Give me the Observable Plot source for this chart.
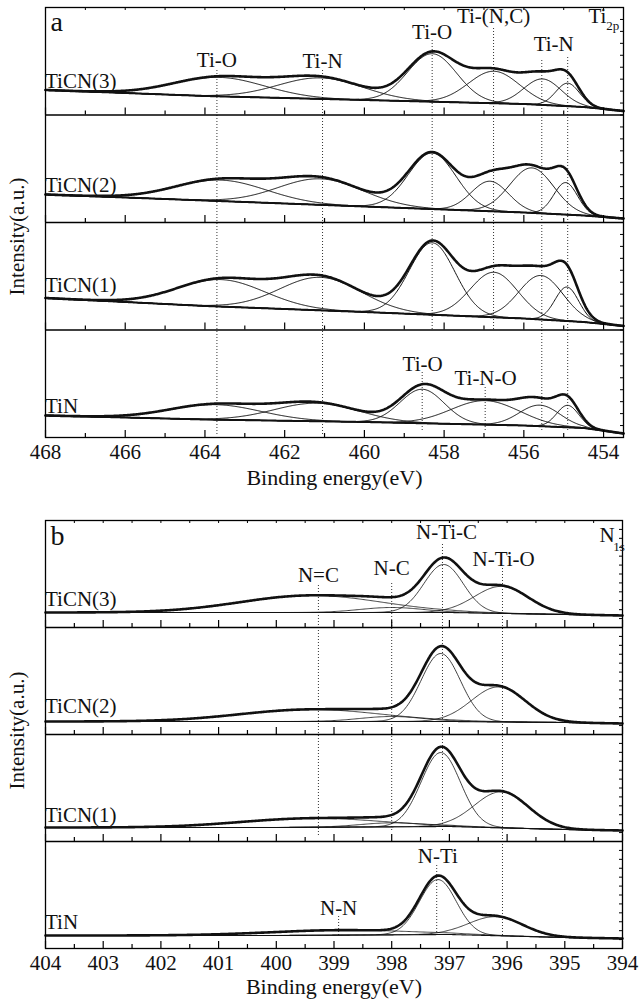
<!DOCTYPE html>
<html><head><meta charset="utf-8">
<script src="https://cdn.jsdelivr.net/npm/d3@7"></script>
<script src="https://cdn.jsdelivr.net/npm/@observablehq/plot@0.6"></script>
<style>
body{margin:0;background:#fff;}
#chart{width:642px;}
#chart svg{display:block;}
#chart svg, #chart svg text, #chart svg g{font-family:"Liberation Serif","Tinos","Times New Roman","Nimbus Roman","DejaVu Serif",serif !important;}
</style></head><body><div id="chart"></div>
<script>
// ================= DATA =================
const samples = ["TiCN(3)", "TiCN(2)", "TiCN(1)", "TiN"];

// ---- panel a : Ti 2p ----
const bgEnergyA = [468, 464, 460, 456, 454.5, 453.5];
const bgA = [
  [25, 19, 15, 11, 8, 4],
  [28, 22, 16, 10, 7, 4],
  [32, 24, 18, 11.5, 8, 4],
  [22, 18, 15.5, 12, 9.5, 4]];
const centersA = [
  [463.65, 461.1, 458.3, 456.75, 455.53, 454.9],
  [463.6, 461.1, 458.3, 456.85, 455.8, 454.95],
  [463.6, 461.1, 458.3, 456.75, 455.57, 454.92],
  [463.75, 461.2, 458.55, 456.97, 455.6, 454.9]];
const heightsA = [
  [19, 21, 48, 32, 26, 23],
  [21, 26, 56, 30, 45, 32],
  [27, 33, 72, 45, 44, 34],
  [15, 18, 34, 24, 21, 22]];
const fwhmA = [
  [2.7, 2.5, 1.45, 1.5, 1.1, 0.7],
  [2.7, 2.5, 1.4, 1.1, 1.3, 0.7],
  [2.6, 2.4, 1.35, 1.4, 1.3, 0.7],
  [2.7, 2.5, 1.3, 2.0, 1.2, 0.65]];
const majorTicksA = [468, 466, 464, 462, 460, 458, 456, 454];
const minorTicksA = [467, 465, 463, 461, 459, 457, 455];
const peakLabelsA = ["Ti-O", "Ti-N", "Ti-O", "Ti-(N,C)", "Ti-N", "Ti-O", "Ti-N-O"];
const peakLabelEA = [463.7, 461.05, 458.3, 456.76, 455.25, 458.54, 456.96];
const peakLabelYA = [377, 376, 405, 421, 393, 73, 59];
const sampleLabelYA = [33, 37, 44, 31];
const guideEA = [463.7, 461.05, 458.3, 456.76, 455.55, 454.9, 458.55, 456.97];
const guideTopA = [369, 368, 397, 411, 377, 381, 65, 51];
const guideBotA = [3, 3, 108, 108, 7, 7, 7, 7];

// ---- panel b : N 1s ----
const bgEnergyB = [404, 400, 397, 395, 394];
const bgB = [
  [15, 15, 15, 13, 12],
  [13, 13, 13, 12, 11],
  [14, 14, 15, 12, 11],
  [13, 13, 14, 11, 10]];
const centersB = [
  [399.4, 398.0, 397.1, 396.1],
  [399.4, 398.0, 397.15, 396.15],
  [399.4, 398.0, 397.15, 396.1],
  [398.9, 397.2, 396.2]];
const heightsB = [
  [17, 5, 48, 27],
  [12, 5, 68, 35],
  [9, 4, 74, 36],
  [5, 55, 19]];
const fwhmB = [
  [2.9, 1.3, 0.8, 1.1],
  [2.9, 1.3, 0.8, 1.1],
  [2.9, 1.3, 0.8, 1.1],
  [3.0, 0.75, 1.1]];
const majorTicksB = [404, 403, 402, 401, 400, 399, 398, 397, 396, 395, 394];
const minorTicksB = [403.5, 402.5, 401.5, 400.5, 399.5, 398.5, 397.5, 396.5, 395.5, 394.5];
const peakLabelsB = ["N=C", "N-C", "N-Ti-C", "N-Ti-O", "N-Ti", "N-N"];
const peakLabelEB = [399.27, 398.0, 397.05, 396.06, 397.2, 398.92];
const peakLabelYB = [373, 380, 416, 389, 92, 40];
const sampleLabelYB = [28, 28, 26, 26];
const guideEB = [399.27, 398.0, 397.12, 396.08, 397.22, 398.92];
const guideTopB = [363, 367, 406, 380, 84, 32];
const guideBotB = [113, 118, 118, 13, 13, 13];

// ================= BUILD =================
const FONT = "'Liberation Serif', Tinos, 'Times New Roman', 'Nimbus Roman', 'DejaVu Serif', serif";

function spectra(knots, bgList, cList, hList, wList, lo, hi, H) {
  const rows = [];
  const grid = d3.range(lo, hi + 1e-9, 0.02);
  samples.forEach((s, i) => {
    const off = (samples.length - 1 - i) * H;
    const bg = d3.scaleLinear(knots, bgList[i]);
    const cs = cList[i], hs = hList[i], ws = wList[i];
    for (const E of grid) {
      const b = bg(E);
      let env = b;
      cs.forEach((c, k) => {
        const v = hs[k] * Math.exp(-4 * Math.LN2 * (E - c) ** 2 / ws[k] ** 2);
        env += v;
        rows.push({E, y: off + b + v, key: s + "-c" + k, kind: "comp"});
      });
      rows.push({E, y: off + b, key: s + "-bg", kind: "bg"});
      rows.push({E, y: off + env, key: s + "-env", kind: "env"});
    }
  });
  return rows;
}

function panel(o) {
  const H = o.H, N = samples.length, top = N * H;
  const rows = spectra(o.bgE, o.bg, o.c, o.h, o.w, o.lo, o.hi, H);
  const tickRows = [];
  for (let i = 0; i < N; i++) {
    o.major.forEach(E => tickRows.push({E, y1: i * H, y2: i * H + 7}));
    o.minor.forEach(E => tickRows.push({E, y1: i * H, y2: i * H + 4}));
  }
  const topTicks = o.major.concat(o.minor).map(E => ({E, y1: top, y2: top - 3}));
  const yTicks = d3.range(o.ySub, top, o.ySub);
  const pxE = (o.hi - o.lo) / o.plotW;
  const guides = o.gE.map((E, k) => ({E, y1: o.gBot[k], y2: o.gTop[k]}));
  const labels = o.lt.map((t, k) => ({t, E: o.lE[k], y: o.lY[k]}));
  const sLabels = samples.map((s, i) => ({s, y: (N - 1 - i) * H + o.sY[i], dx: o.sDx[i]}));
  const T = {fill: "#111", fontFamily: FONT};
  return Plot.plot({
    width: 642, height: 500,
    marginLeft: 45, marginRight: o.mr, marginTop: o.mt, marginBottom: o.mb,
    style: {fontFamily: FONT, fontSize: "21px", color: "#111", background: "#fff", overflow: "visible"},
    x: {domain: [o.hi, o.lo]},
    y: {domain: [0, top], axis: null},
    marks: [
      Plot.ruleX(guides, {x: "E", y1: "y1", y2: "y2", stroke: "#333", strokeWidth: 1, strokeDasharray: "1,2"}),
      Plot.line(rows.filter(d => d.kind === "comp"), {x: "E", y: "y", z: "key", stroke: "#111", strokeWidth: o.compW}),
      Plot.line(rows.filter(d => d.kind === "bg"), {x: "E", y: "y", z: "key", stroke: "#111", strokeWidth: o.bgW}),
      Plot.line(rows.filter(d => d.kind === "env"), {x: "E", y: "y", z: "key", stroke: "#111", strokeWidth: 2.6}),
      Plot.ruleY(d3.range(1, N).map(i => i * H), {stroke: "#000", strokeWidth: 1.3}),
      Plot.ruleX(tickRows, {x: "E", y1: "y1", y2: "y2", stroke: "#000", strokeWidth: 1.2}),
      Plot.ruleX(topTicks, {x: "E", y1: "y1", y2: "y2", stroke: "#000", strokeWidth: 1}),
      Plot.ruleY(yTicks, {x1: () => o.lo + 3 * pxE, x2: () => o.lo, stroke: "#000", strokeWidth: 1}),
      Plot.frame({stroke: "#000", strokeWidth: 1.3}),
      Plot.axisX({ticks: o.major, tickSize: 0, tickPadding: 7, fontSize: 21, fontFamily: FONT, label: null, tickFormat: d => String(d)}),
      Plot.text(labels, {x: "E", y: "y", text: "t", fontSize: 21, ...T}),
      Plot.text(sLabels, {frameAnchor: "left", y: "y", dx: "dx", text: "s", textAnchor: "start", lineAnchor: "middle", fontSize: 21, ...T}),
      Plot.text([o.letter], {frameAnchor: "top-left", dx: 5, dy: o.letterDy, textAnchor: "start", lineAnchor: "middle", fontSize: 28, ...T}),
      Plot.text([o.core[0]], {x: () => o.coreE[0], y: () => o.coreY[0], textAnchor: "start", fontSize: 21, ...T}),
      Plot.text([o.core[1]], {x: () => o.coreE[1], y: () => o.coreY[1], textAnchor: "start", fontSize: 13, ...T}),
      Plot.text(["Intensity(a.u.)"], {frameAnchor: "left", dx: -28, dy: o.yLabelDy, rotate: -90, textAnchor: "middle", lineAnchor: "middle", fontSize: 21, ...T}),
      Plot.text(["Binding energy(eV)"], {frameAnchor: "bottom", dy: o.titleDy, textAnchor: "middle", lineAnchor: "middle", fontSize: 22, ...T})
    ]
  });
}

const chart = document.getElementById("chart");
chart.append(panel({
  H: 107.5, lo: 453.5, hi: 468, plotW: 578, mr: 19, mt: 7, mb: 63,
  bgE: bgEnergyA, bg: bgA, c: centersA, h: heightsA, w: fwhmA,
  major: majorTicksA, minor: minorTicksA, ySub: 107.5 / 9,
  gE: guideEA, gTop: guideTopA, gBot: guideBotA,
  lt: peakLabelsA, lE: peakLabelEA, lY: peakLabelYA,
  sY: sampleLabelYA, sDx: [5, 5, 5, 6],
  letter: "a", letterDy: 15, core: ["Ti", "2p"], coreE: [454.38, 453.93], coreY: [421, 412],
  compW: 1, bgW: 2, titleDy: 40, yLabelDy: 14
}));
chart.append(panel({
  H: 107, lo: 394, hi: 404, plotW: 577, mr: 20, mt: 20, mb: 52,
  bgE: bgEnergyB, bg: bgB, c: centersB, h: heightsB, w: fwhmB,
  major: majorTicksB, minor: minorTicksB, ySub: 107 / 12,
  gE: guideEB, gTop: guideTopB, gBot: guideBotB,
  lt: peakLabelsB, lE: peakLabelEB, lY: peakLabelYB,
  sY: sampleLabelYB, sDx: [5, 5, 4, 10],
  letter: "b", letterDy: 16, core: ["N", "1s"], coreE: [394.40, 394.16], coreY: [413, 402],
  compW: 0.8, bgW: 1.1, titleDy: 38, yLabelDy: -4
}));
</script></body></html>
